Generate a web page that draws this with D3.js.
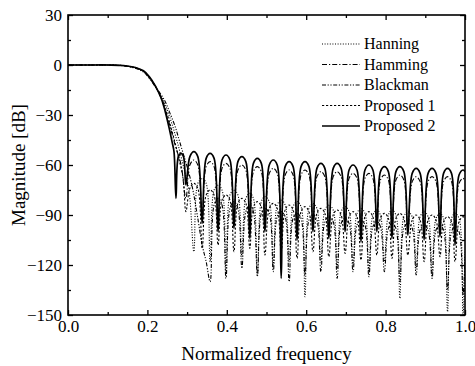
<!DOCTYPE html>
<html>
<head>
<meta charset="utf-8">
<script src="https://cdn.jsdelivr.net/npm/d3@7"></script>
<style>
  html, body { margin: 0; padding: 0; background: #fff; }
  svg { display: block; }
  text { font-family: "Liberation Serif", "DejaVu Serif", serif; fill: #000; }
</style>
</head>
<body>
<svg id="chart" width="475" height="366"></svg>
<script>
// ---------------- data ----------------
const xTicks = [0.0, 0.2, 0.4, 0.6, 0.8, 1.0];
const xMinor = [0.1, 0.3, 0.5, 0.7, 0.9];
const yTicks = [-150, -120, -90, -60, -30, 0, 30];
const yMinor = [-135, -105, -75, -45, -15, 15];
const seriesNames = ["Hanning", "Hamming", "Blackman", "Proposed 1", "Proposed 2"];

// [normalized frequency, magnitude dB]
const hanning = [
[0,0],[0.05,0],[0.1,0],[0.14,-0.4],[0.17,-1.8],[0.19,-3.8],[0.205,-7.8],[0.22,-13],[0.235,-19],[0.245,-24],[0.26,-34],[0.275,-46],[0.29,-60],[0.305,-76],[0.317,-112],
[0.327,-71],[0.338,-68],[0.348,-71],[0.358,-118],
[0.368,-75],[0.378,-72],[0.388,-75],[0.398,-124],
[0.408,-78],[0.418,-75],[0.428,-78],[0.438,-115],
[0.448,-80],[0.458,-77],[0.467,-80],[0.477,-127],
[0.487,-82],[0.496,-79],[0.507,-82],[0.517,-120],
[0.527,-84],[0.537,-81],[0.547,-84],[0.557,-118],
[0.567,-85],[0.577,-82],[0.587,-85],[0.597,-139],
[0.607,-86],[0.617,-83],[0.627,-86],[0.637,-118],
[0.647,-87],[0.657,-84],[0.668,-87],[0.678,-122],
[0.688,-88],[0.698,-85],[0.708,-88],[0.718,-120],
[0.728,-89],[0.738,-86],[0.748,-89],[0.758,-124],
[0.768,-90],[0.778,-87],[0.787,-90],[0.797,-118],
[0.807,-90],[0.816,-87],[0.826,-90],[0.836,-140],
[0.846,-91],[0.856,-88],[0.867,-91],[0.877,-122],
[0.887,-91],[0.897,-88],[0.907,-91],[0.917,-126],
[0.927,-92],[0.937,-89],[0.946,-92],[0.956,-148],
[0.966,-92],[0.975,-89],[0.985,-92],[0.995,-150],[1.0,-112]
];

const hamming = [
[0,0],[0.05,0],[0.1,0],[0.14,-0.4],[0.17,-1.7],[0.19,-3.7],[0.205,-7.4],[0.22,-12.8],[0.235,-20],[0.245,-27],[0.255,-35],[0.265,-44],[0.275,-52],[0.285,-60],[0.297,-80],
[0.307,-60],[0.317,-57],[0.327,-60],[0.338,-92],
[0.348,-61],[0.358,-58],[0.368,-61],[0.378,-96],
[0.388,-62],[0.398,-59],[0.408,-62],[0.418,-95],
[0.428,-63],[0.438,-60],[0.448,-63],[0.458,-100],
[0.467,-64],[0.477,-61],[0.487,-64],[0.496,-96],
[0.507,-65],[0.517,-62],[0.527,-65],[0.537,-110],
[0.547,-66],[0.557,-63],[0.567,-66],[0.577,-100],
[0.587,-66],[0.597,-63],[0.607,-66],[0.617,-98],
[0.627,-67],[0.637,-64],[0.647,-67],[0.657,-100],
[0.668,-67],[0.678,-64],[0.688,-67],[0.698,-97],
[0.708,-68],[0.718,-65],[0.728,-68],[0.738,-102],
[0.748,-68],[0.758,-65],[0.768,-68],[0.778,-98],
[0.787,-69],[0.797,-66],[0.807,-69],[0.816,-100],
[0.826,-69],[0.836,-66],[0.846,-69],[0.856,-99],
[0.867,-70],[0.877,-67],[0.887,-70],[0.897,-101],
[0.907,-70],[0.917,-67],[0.927,-70],[0.937,-100],
[0.946,-70],[0.956,-67],[0.966,-70],[0.975,-104],
[0.985,-71],[0.995,-68],[1.0,-69]
];

const blackman = [
[0,0],[0.05,0],[0.1,0],[0.14,-0.5],[0.17,-2],[0.19,-4.2],[0.205,-8],[0.22,-13],[0.235,-18],[0.245,-22],[0.257,-29],[0.27,-37],[0.28,-45],[0.29,-53],[0.30,-61],[0.31,-70],[0.317,-78],[0.327,-92],[0.338,-108],[0.348,-118],[0.358,-130],
[0.368,-84],[0.378,-80],[0.388,-84],[0.398,-128],
[0.408,-86],[0.418,-82],[0.428,-86],[0.438,-122],
[0.448,-88],[0.458,-84],[0.467,-88],[0.477,-126],
[0.487,-89],[0.496,-86],[0.507,-89],[0.517,-124],
[0.527,-91],[0.537,-88],[0.547,-91],[0.557,-130],
[0.567,-92],[0.577,-89],[0.587,-92],[0.597,-126],
[0.607,-93],[0.617,-90],[0.627,-93],[0.637,-124],
[0.647,-94],[0.657,-91],[0.668,-94],[0.678,-128],
[0.688,-95],[0.698,-92],[0.708,-95],[0.718,-124],
[0.728,-96],[0.738,-93],[0.748,-96],[0.758,-127],
[0.768,-97],[0.778,-94],[0.787,-97],[0.797,-124],
[0.807,-98],[0.816,-95],[0.826,-98],[0.836,-130],
[0.846,-98],[0.856,-95],[0.867,-98],[0.877,-126],
[0.887,-99],[0.897,-96],[0.907,-99],[0.917,-128],
[0.927,-99],[0.937,-96],[0.946,-99],[0.956,-135],
[0.966,-100],[0.975,-97],[0.985,-100],[0.995,-138],[1.0,-115]
];

const proposed1 = [
[0,0],[0.05,0],[0.1,0],[0.14,-0.4],[0.17,-1.7],[0.19,-3.7],[0.205,-7.5],[0.22,-12.8],[0.235,-20],[0.245,-26],[0.26,-38],[0.27,-47],[0.28,-57],[0.29,-68],[0.297,-88],
[0.307,-74],[0.317,-71],[0.327,-74],[0.338,-110],
[0.348,-78],[0.358,-75],[0.368,-78],[0.378,-108],
[0.388,-81],[0.398,-78],[0.408,-81],[0.418,-112],
[0.428,-83],[0.438,-80],[0.448,-83],[0.458,-110],
[0.467,-85],[0.477,-82],[0.487,-85],[0.496,-114],
[0.507,-86],[0.517,-83],[0.527,-86],[0.537,-112],
[0.547,-87],[0.557,-84],[0.567,-87],[0.577,-116],
[0.587,-88],[0.597,-85],[0.607,-88],[0.617,-112],
[0.627,-89],[0.637,-86],[0.647,-89],[0.657,-115],
[0.668,-90],[0.678,-87],[0.688,-90],[0.698,-113],
[0.708,-91],[0.718,-88],[0.728,-91],[0.738,-117],
[0.748,-91],[0.758,-88],[0.768,-91],[0.778,-114],
[0.787,-92],[0.797,-89],[0.807,-92],[0.816,-116],
[0.826,-92],[0.836,-89],[0.846,-92],[0.856,-114],
[0.867,-93],[0.877,-90],[0.887,-93],[0.897,-118],
[0.907,-93],[0.917,-90],[0.927,-93],[0.937,-115],
[0.946,-94],[0.956,-91],[0.966,-94],[0.975,-118],
[0.985,-94],[0.995,-91],[1.0,-92]
];

const proposed2 = [
[0,0],[0.05,0],[0.1,0],[0.14,-0.3],[0.17,-1.5],[0.19,-3.5],[0.205,-7],[0.22,-12.5],[0.235,-20],[0.245,-28],[0.255,-38],[0.262,-46],[0.267,-52],[0.272,-80],
[0.278,-55],[0.285,-53],[0.291,-55],[0.297,-72],
[0.307,-55],[0.317,-52],[0.327,-55],[0.338,-95],
[0.348,-56],[0.358,-53],[0.368,-56],[0.378,-100],
[0.388,-57],[0.398,-54],[0.408,-57],[0.418,-98],
[0.428,-58],[0.438,-55],[0.448,-58],[0.458,-104],
[0.467,-59],[0.477,-56],[0.487,-59],[0.496,-100],
[0.507,-60],[0.517,-57],[0.527,-60],[0.537,-128],
[0.547,-61],[0.557,-58],[0.567,-61],[0.577,-105],
[0.587,-61],[0.597,-58],[0.607,-61],[0.617,-100],
[0.627,-62],[0.637,-59],[0.647,-62],[0.657,-104],
[0.668,-62],[0.678,-59],[0.688,-62],[0.698,-100],
[0.708,-63],[0.718,-60],[0.728,-63],[0.738,-106],
[0.748,-63],[0.758,-60],[0.768,-63],[0.778,-100],
[0.787,-64],[0.797,-61],[0.807,-64],[0.816,-104],
[0.826,-64],[0.836,-61],[0.846,-64],[0.856,-102],
[0.867,-65],[0.877,-62],[0.887,-65],[0.897,-105],
[0.907,-65],[0.917,-62],[0.927,-65],[0.937,-103],
[0.946,-65],[0.956,-62],[0.966,-65],[0.975,-108],
[0.985,-66],[0.995,-63],[1.0,-64]
];

const seriesData = [hanning, hamming, blackman, proposed1, proposed2];
const seriesDash = ["1,1.6", "5,2,1.2,2", "4,1.6,1.2,1.6,1.2,1.6", "2.2,1.8", null];
const seriesWidth = [1.1, 1.1, 1.1, 1.1, 1.7];

// ---------------- layout ----------------
const svg = d3.select("#chart");
const L = 68, R = 465, T = 15, B = 315;
const x = d3.scaleLinear().domain([0, 1]).range([L, R]);
const y = d3.scaleLinear().domain([-150, 30]).range([B, T]);

svg.append("defs").append("clipPath").attr("id", "plotclip")
  .append("rect").attr("x", L).attr("y", T).attr("width", R - L).attr("height", B - T);

// series
const line = d3.line()
  .x(d => x(d[0]))
  .y(d => y(d[1]))
  .curve(d3.curveCatmullRom.alpha(0.5));

const plot = svg.append("g").attr("clip-path", "url(#plotclip)");
seriesData.forEach((data, i) => {
  plot.append("path")
    .attr("d", line(data))
    .attr("fill", "none")
    .attr("stroke", "#000")
    .attr("stroke-width", seriesWidth[i])
    .attr("stroke-dasharray", seriesDash[i])
    .attr("stroke-linejoin", "round");
});

// axes
const fontTick = "17px";
function styleAxis(g) {
  g.select(".domain").remove();
  g.selectAll(".tick line").attr("stroke", "#000").attr("stroke-width", 1.3);
  g.selectAll("text").style("font-family", '"Liberation Serif", "DejaVu Serif", serif')
    .style("font-size", fontTick).attr("fill", "#000");
}

svg.append("g").attr("transform", `translate(0,${B})`)
  .call(d3.axisBottom(x).tickValues(xTicks).tickFormat(d3.format(".1f")).tickSize(-5).tickPadding(5))
  .call(styleAxis);
svg.append("g").attr("transform", `translate(0,${B})`)
  .call(d3.axisBottom(x).tickValues(xMinor).tickFormat("").tickSize(-3))
  .call(styleAxis);
svg.append("g").attr("transform", `translate(0,${T})`)
  .call(d3.axisTop(x).tickValues(xTicks).tickFormat("").tickSize(-5))
  .call(styleAxis);
svg.append("g").attr("transform", `translate(0,${T})`)
  .call(d3.axisTop(x).tickValues(xMinor).tickFormat("").tickSize(-3))
  .call(styleAxis);

svg.append("g").attr("transform", `translate(${L},0)`)
  .call(d3.axisLeft(y).tickValues(yTicks).tickSize(-5).tickPadding(6))
  .call(styleAxis);
svg.append("g").attr("transform", `translate(${L},0)`)
  .call(d3.axisLeft(y).tickValues(yMinor).tickFormat("").tickSize(-3))
  .call(styleAxis);
svg.append("g").attr("transform", `translate(${R},0)`)
  .call(d3.axisRight(y).tickValues(yTicks).tickFormat("").tickSize(-5))
  .call(styleAxis);
svg.append("g").attr("transform", `translate(${R},0)`)
  .call(d3.axisRight(y).tickValues(yMinor).tickFormat("").tickSize(-3))
  .call(styleAxis);

// frame
svg.append("rect").attr("x", L).attr("y", T).attr("width", R - L).attr("height", B - T)
  .attr("fill", "none").attr("stroke", "#000").attr("stroke-width", 1.6);

// axis titles
svg.append("text").attr("x", (L + R) / 2).attr("y", 360)
  .attr("text-anchor", "middle").style("font-size", "19px").text("Normalized frequency");
svg.append("text").attr("transform", `translate(25,${(T + B) / 2}) rotate(-90)`)
  .attr("text-anchor", "middle").style("font-size", "19px").text("Magnitude [dB]");

// legend
const legendY = [44, 64.5, 85, 105.5, 126];
const lg = svg.append("g");
seriesNames.forEach((name, i) => {
  lg.append("line").attr("x1", 322).attr("x2", 360)
    .attr("y1", legendY[i]).attr("y2", legendY[i])
    .attr("stroke", "#000").attr("stroke-width", seriesWidth[i])
    .attr("stroke-dasharray", seriesDash[i]);
  lg.append("text").attr("x", 364).attr("y", legendY[i]).attr("dy", "0.33em")
    .style("font-size", "16px").text(name);
});
</script>
</body>
</html>
